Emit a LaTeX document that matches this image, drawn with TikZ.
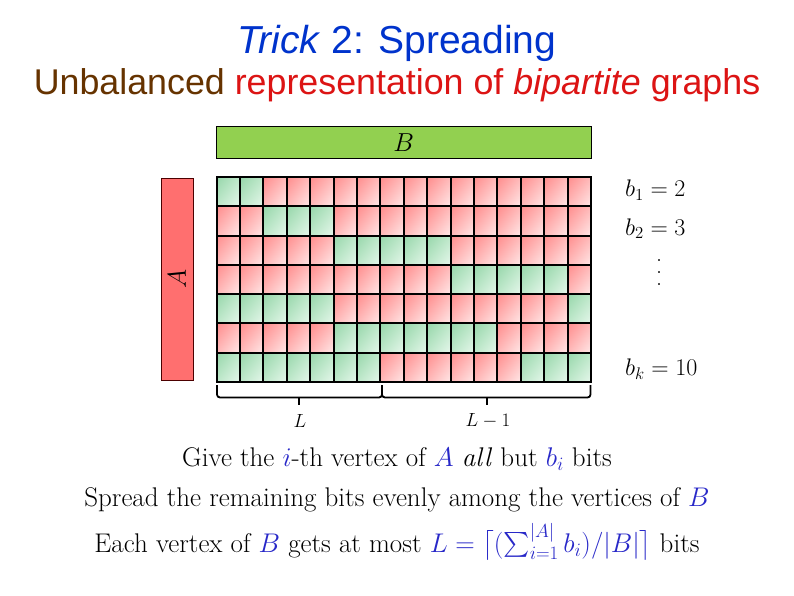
\RequirePackage{fix-cm}
\documentclass[tikz,border=0pt]{standalone}
\usepackage{amsmath}
\usepackage{fontspec}
\usetikzlibrary{shadings}
\newfontfamily\arialf{Liberation Sans}
\definecolor{titleblue}{RGB}{0,51,204}
\definecolor{subbrown}{RGB}{102,51,0}
\definecolor{subred}{RGB}{220,20,20}
\definecolor{mblue}{RGB}{40,40,200}
\definecolor{bgreen}{RGB}{146,208,80}
\definecolor{ared}{RGB}{255,111,111}
\definecolor{rtl}{RGB}{255,140,140}
\definecolor{rmid}{RGB}{255,185,185}
\definecolor{rbr}{RGB}{255,232,232}
\definecolor{gtl}{RGB}{150,214,170}
\definecolor{gmid}{RGB}{190,232,202}
\definecolor{gbr}{RGB}{230,247,236}
\tikzset{
  redcell/.style={upper left=rtl, upper right=rmid, lower left=rmid, lower right=rbr},
  greencell/.style={upper left=gtl, upper right=gmid, lower left=gmid, lower right=gbr},
  gridline/.style={line width=2pt, black, line cap=rect},
  bracket/.style={line width=1.8pt, black, rounded corners=3pt},
  lab/.style={inner sep=0pt, font=\fontsize{19}{22}\selectfont},
  blab/.style={inner sep=0pt, anchor=base west, font=\fontsize{24}{28}\selectfont},
  bottomtext/.style={inner sep=0pt, anchor=base, font=\fontsize{27}{31}\selectfont}
}
\begin{document}
\begin{tikzpicture}[x=1pt,y=-1pt]
\useasboundingbox (0,0) rectangle (794,595);
% title
\node[anchor=base, inner sep=0pt, font=\arialf\fontsize{39}{44}\selectfont, text=titleblue] (title) at (397,53) {\textit{Trick} 2: Spreading};
\node[anchor=base, inner sep=0pt, font=\arialf\fontsize{35.8}{40}\selectfont] (subtitle) at (397,94) {\textcolor{subbrown}{Unbalanced} \textcolor{subred}{representation of \textit{bipartite} graphs}};
% bars
\node[draw=black, line width=0.8pt, fill=bgreen, minimum width=374.5pt, minimum height=32.5pt, inner sep=0pt] (Bbar) at (403.75,142.25) {};
\node[font=\fontsize{26}{30}\selectfont, inner sep=0pt] (Blab) at (Bbar.center) {$B$};
\node[draw=black!70!red, line width=0.8pt, fill=ared, minimum width=32pt, minimum height=202.5pt, inner sep=0pt] (Abar) at (177,279.25) {};
\node[rotate=90, font=\fontsize{26}{30}\selectfont, inner sep=0pt] (Alab) at (Abar.center) {$A$};
% cells
\foreach \r in {1,...,7}{
  \foreach \c in {1,...,16}{
    \shade[redcell] ({216.5+(\c-1)*23.406},{177+(\r-1)*29.286}) rectangle ++(23.406,29.286);
  }
}
\foreach \r/\a/\b in {1/1/2, 2/3/5, 3/6/10, 4/11/15, 5/1/5, 5/16/16, 6/6/12, 7/1/7, 7/14/16}{
  \foreach \c in {\a,...,\b}{
    \shade[greencell] ({216.5+(\c-1)*23.406},{177+(\r-1)*29.286}) rectangle ++(23.406,29.286);
  }
}
\foreach \c in {0,...,16}{
  \draw[gridline] ({216.5+\c*23.406},177) -- ({216.5+\c*23.406},382);
}
\foreach \r in {0,...,7}{
  \draw[gridline] (216.5,{177+\r*29.286}) -- (591,{177+\r*29.286});
}
% brackets
\coordinate (b1s) at (217,385);
\coordinate (b1e) at (382,385);
\coordinate (b2e) at (590.5,385);
\draw[bracket] (b1s) -- (217,397.5) -- (382,397.5) -- (b1e);
\draw[bracket] (b1e) -- (382,397.5) -- (590.5,397.5) -- (b2e);
\coordinate (t1) at (299,397.5);
\coordinate (t2) at (487,397.5);
\draw[line width=1.8pt] (t1) -- ++(0,7);
\draw[line width=1.8pt] (t2) -- ++(0,7);
\node[lab] (L1) at (300,421) {$L$};
\node[lab] (L2) at (488,421) {$L-1$};
% right labels
\node[blab] (bb1) at (625,196.5) {$b_1=2$};
\node[blab] (bb2) at (625,235) {$b_2=3$};
\node[inner sep=0pt, font=\fontsize{24}{28}\selectfont] (dots) at (659,273) {\vbox{\baselineskip=12pt\lineskiplimit=0pt\hbox{.}\hbox{.}\hbox{.}}};
\node[blab] (bbk) at (625,375.5) {$b_k=10$};
% bottom text
\node[bottomtext] (t1x) at (397,466) {Give the \textcolor{mblue}{$i$}-th vertex of \textcolor{mblue}{$A$} \emph{all} but \textcolor{mblue}{$b_i$} bits};
\node[bottomtext] (t2x) at (397,506.5) {Spread the remaining bits evenly among the vertices of \textcolor{mblue}{$B$}};
\node[bottomtext] (t3x) at (397,552) {Each vertex of \textcolor{mblue}{$B$} gets at most \textcolor{mblue}{$L=\bigl\lceil(\sum_{i=1}^{|A|}b_i)/|B|\bigr\rceil$} bits};
\end{tikzpicture}
\end{document}
